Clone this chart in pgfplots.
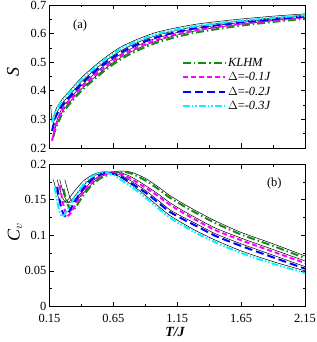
\documentclass[border=0pt]{standalone}
\usepackage{fontspec}
\setmainfont{Liberation Serif}
\usepackage{pgfplots}
\pgfplotsset{compat=1.18}
\definecolor{kgreen}{RGB}{20,140,20}
\definecolor{kmag}{RGB}{255,0,255}
\definecolor{kblue}{RGB}{0,0,255}
\definecolor{kcyan}{RGB}{0,245,255}
\begin{document}
\begin{tikzpicture}
\pgfplotsset{
  myax/.style={
    scale only axis, width=255.5bp, height=143bp,
    xmin=0.15, xmax=2.15,
    xtick={0.15,0.65,1.15,1.65,2.15},
    minor x tick num=1, minor y tick num=1,
    tick align=inside, major tick length=4.5bp, minor tick length=2.5bp,
    tick style={black, line width=0.6pt},
    axis line style={line width=0.8pt},
    ticklabel style={font=\fontsize{12.5}{13}\selectfont, inner sep=1pt},
    xticklabel style={yshift=-6.5bp},
    yticklabel style={xshift=-2bp},
    every axis plot/.append style={smooth, tension=0.4},
  },
  blk/.style={black, line width=0.5pt, forget plot},
  gr/.style={kgreen, line width=2pt, dash pattern=on 8pt off 3pt on 1.5pt off 3pt},
  mg/.style={kmag, line width=2pt, dash pattern=on 5pt off 3pt},
  bl/.style={kblue, line width=2pt, dash pattern=on 8pt off 4pt},
  cy/.style={kcyan, line width=2pt, dash pattern=on 7pt off 2pt on 1.5pt off 2pt on 1.5pt off 2pt},
}
\path[use as bounding box] (-49.5bp,5bp) rectangle (267.5bp,-337bp);
% ---------------- top panel
\begin{axis}[myax, at={(0,0)}, anchor=north west,
  ymin=0.2, ymax=0.7, ytick={0.2,0.3,0.4,0.5,0.6,0.7},
  yticklabels={0.2,0.3,0.4,0.5,0.6,0.7},
  xticklabels={},
  legend style={at={(0.516,0.645)}, anchor=north west, draw=none, fill=none,
    font=\fontsize{12.5}{13}\selectfont, row sep=0.5pt, inner sep=0.5pt},
  legend cell align=left,
  legend image code/.code={\draw[#1] (0bp,0bp) -- (42bp,0bp);},
]
\addplot[blk] coordinates {(0.16,0.35)(0.17,0.296)(0.2,0.336)(0.25,0.371)(0.3,0.396)(0.4,0.446)(0.5,0.486)(0.6,0.521)(0.7,0.551)(0.8,0.573)(0.9,0.591)(1.0,0.606)(1.15,0.621)(1.3,0.633)(1.48,0.643)(1.65,0.651)(1.9,0.661)(2.15,0.669)};
\addplot[blk] coordinates {(0.17,0.266)(0.2,0.316)(0.25,0.356)(0.3,0.381)(0.4,0.431)(0.5,0.472)(0.6,0.508)(0.7,0.538)(0.8,0.561)(0.9,0.580)(1.0,0.595)(1.15,0.612)(1.3,0.625)(1.48,0.636)(1.65,0.644)(1.9,0.655)(2.15,0.665)};
\addplot[blk] coordinates {(0.17,0.231)(0.2,0.286)(0.25,0.341)(0.3,0.368)(0.4,0.418)(0.5,0.459)(0.6,0.496)(0.7,0.526)(0.8,0.550)(0.9,0.570)(1.0,0.586)(1.15,0.604)(1.3,0.618)(1.48,0.630)(1.65,0.639)(1.9,0.651)(2.15,0.662)};
\addplot[blk] coordinates {(0.18,0.246)(0.2,0.276)(0.25,0.326)(0.3,0.356)(0.4,0.406)(0.5,0.446)(0.6,0.483)(0.7,0.514)(0.8,0.539)(0.9,0.559)(1.0,0.576)(1.15,0.595)(1.3,0.610)(1.48,0.623)(1.65,0.633)(1.9,0.646)(2.15,0.657)};
% colored
\addplot[gr] coordinates {(0.18,0.24)(0.2,0.27)(0.25,0.32)(0.3,0.35)(0.4,0.40)(0.5,0.44)(0.6,0.477)(0.7,0.508)(0.8,0.533)(0.9,0.553)(1.0,0.57)(1.15,0.589)(1.3,0.604)(1.48,0.617)(1.65,0.628)(1.9,0.641)(2.15,0.652)};
\addlegendentry{\textit{KLHM}}
\addplot[mg] coordinates {(0.17,0.225)(0.2,0.28)(0.25,0.335)(0.3,0.362)(0.4,0.412)(0.5,0.453)(0.6,0.49)(0.7,0.52)(0.8,0.544)(0.9,0.564)(1.0,0.58)(1.15,0.598)(1.3,0.612)(1.48,0.624)(1.65,0.634)(1.9,0.646)(2.15,0.657)};
\addlegendentry{$\Delta$=\textit{-0.1J}}
\addplot[bl] coordinates {(0.17,0.26)(0.2,0.31)(0.25,0.35)(0.3,0.375)(0.4,0.425)(0.5,0.466)(0.6,0.502)(0.7,0.532)(0.8,0.555)(0.9,0.574)(1.0,0.589)(1.15,0.606)(1.3,0.619)(1.48,0.630)(1.65,0.639)(1.9,0.65)(2.15,0.66)};
\addlegendentry{$\Delta$=\textit{-0.2J}}
\addplot[cy] coordinates {(0.17,0.29)(0.2,0.33)(0.25,0.365)(0.3,0.39)(0.4,0.44)(0.5,0.48)(0.6,0.515)(0.7,0.545)(0.8,0.567)(0.9,0.585)(1.0,0.60)(1.15,0.615)(1.3,0.627)(1.48,0.637)(1.65,0.645)(1.9,0.655)(2.15,0.664)};
\addlegendentry{$\Delta$=\textit{-0.3J}}
\node[font=\fontsize{12.5}{13}\selectfont] at (rel axis cs:0.12,0.86) {(a)};
\end{axis}
\node[font=\fontsize{18}{19}\selectfont\itshape, rotate=90] at (-36.5bp,-67bp) {S};
% ---------------- bottom panel
\begin{axis}[myax, at={(0,-159bp)}, anchor=north west, height=142.5bp,
  ymin=0, ymax=0.2, ytick={0,0.05,0.1,0.15,0.2},
  yticklabels={0,0.05,0.1,0.15,0.2},
  xticklabels={0.15,0.65,1.15,1.65,2.15},
]
\addplot[blk] coordinates {(0.27,0.178)(0.29,0.165)(0.31,0.153)(0.33,0.147)(0.36,0.149)(0.41,0.158)(0.48,0.172)(0.56,0.183)(0.65,0.189)(0.73,0.190)(0.8,0.188)(0.9,0.18)(1.0,0.168)(1.09,0.156)(1.2,0.144)(1.3,0.134)(1.45,0.120)(1.65,0.104)(1.9,0.088)(2.15,0.071)};
\addplot[blk] coordinates {(0.23,0.178)(0.25,0.165)(0.27,0.153)(0.3,0.146)(0.34,0.149)(0.4,0.16)(0.46,0.172)(0.54,0.183)(0.63,0.189)(0.72,0.187)(0.8,0.181)(0.9,0.17)(1.0,0.158)(1.09,0.146)(1.2,0.134)(1.3,0.124)(1.45,0.110)(1.65,0.096)(1.9,0.080)(2.15,0.064)};
\addplot[blk] coordinates {(0.21,0.178)(0.23,0.165)(0.25,0.153)(0.28,0.146)(0.32,0.149)(0.38,0.162)(0.45,0.176)(0.52,0.185)(0.6,0.189)(0.7,0.185)(0.8,0.175)(0.9,0.163)(1.0,0.149)(1.09,0.136)(1.2,0.125)(1.3,0.116)(1.45,0.102)(1.65,0.088)(1.9,0.072)(2.15,0.056)};
\addplot[blk] coordinates {(0.18,0.178)(0.2,0.165)(0.22,0.153)(0.25,0.146)(0.29,0.149)(0.35,0.163)(0.42,0.177)(0.5,0.186)(0.57,0.189)(0.65,0.187)(0.7,0.182)(0.8,0.170)(0.9,0.156)(1.0,0.141)(1.09,0.128)(1.2,0.116)(1.3,0.106)(1.45,0.093)(1.65,0.078)(1.9,0.063)(2.15,0.050)};
\addplot[gr] coordinates {(0.26,0.165)(0.28,0.15)(0.3,0.14)(0.32,0.135)(0.35,0.138)(0.4,0.152)(0.47,0.168)(0.55,0.18)(0.65,0.187)(0.73,0.189)(0.8,0.186)(0.9,0.177)(1.0,0.165)(1.09,0.153)(1.2,0.141)(1.3,0.131)(1.45,0.117)(1.65,0.101)(1.9,0.085)(2.15,0.068)};
\addplot[mg] coordinates {(0.23,0.17)(0.25,0.15)(0.27,0.135)(0.29,0.127)(0.32,0.132)(0.37,0.148)(0.44,0.167)(0.52,0.18)(0.63,0.188)(0.72,0.185)(0.8,0.178)(0.9,0.167)(1.0,0.155)(1.09,0.143)(1.2,0.131)(1.3,0.121)(1.45,0.107)(1.65,0.093)(1.9,0.077)(2.15,0.061)};
\addplot[bl] coordinates {(0.21,0.168)(0.23,0.148)(0.25,0.134)(0.27,0.127)(0.3,0.132)(0.35,0.148)(0.42,0.167)(0.5,0.181)(0.6,0.188)(0.7,0.183)(0.8,0.172)(0.9,0.160)(1.0,0.146)(1.09,0.133)(1.2,0.122)(1.3,0.113)(1.45,0.099)(1.65,0.085)(1.9,0.069)(2.15,0.053)};
\addplot[cy] coordinates {(0.19,0.168)(0.21,0.148)(0.23,0.132)(0.25,0.126)(0.28,0.132)(0.32,0.145)(0.38,0.163)(0.45,0.178)(0.52,0.186)(0.58,0.188)(0.65,0.185)(0.7,0.179)(0.8,0.167)(0.9,0.153)(1.0,0.138)(1.09,0.125)(1.2,0.113)(1.3,0.103)(1.45,0.090)(1.65,0.075)(1.9,0.060)(2.15,0.047)};
\node[font=\fontsize{12.5}{13}\selectfont] at (rel axis cs:0.88,0.86) {(b)};
\end{axis}
\node[font=\fontsize{18}{19}\selectfont\itshape, rotate=90] at (-34.5bp,-227bp) {C$_v$};
\node[font=\fontsize{14}{15}\selectfont\bfseries\itshape] at (125.5bp,-327bp) {T/J};
\end{tikzpicture}
\end{document}
